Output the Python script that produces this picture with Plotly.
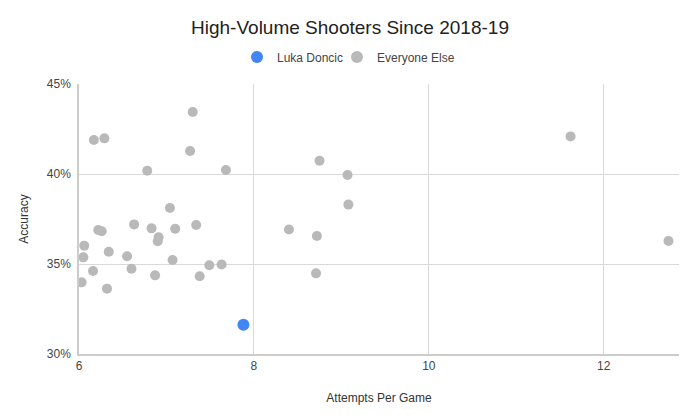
import plotly.graph_objects as go

# Data
luka_attempts = [7.88]
luka_accuracy = [0.3163]

other_attempts = [6.17, 6.29, 7.30, 7.27, 6.78, 7.68, 7.04, 6.63, 6.83, 7.10,
                  7.34, 6.22, 6.26, 6.91, 6.90, 6.06, 6.05, 6.34, 6.55, 7.07,
                  7.49, 7.63, 6.16, 6.60, 6.87, 7.38, 6.03, 6.32, 8.75, 9.07,
                  9.08, 8.40, 8.72, 8.71, 11.62, 12.74]
other_accuracy = [0.4189, 0.4198, 0.4344, 0.4128, 0.4018, 0.4022, 0.3811, 0.3720, 0.3698, 0.3696,
                  0.3717, 0.3689, 0.3682, 0.3648, 0.3626, 0.3602, 0.3537, 0.3568, 0.3543, 0.3522,
                  0.3493, 0.3497, 0.3461, 0.3474, 0.3437, 0.3432, 0.3398, 0.3363, 0.4074, 0.3994,
                  0.3830, 0.3692, 0.3656, 0.3448, 0.4209, 0.3628]

x_ticks = [6, 8, 10, 12]
y_ticks = [0.30, 0.35, 0.40, 0.45]

# The page body has an 8px default margin; size the figure to fill the rest.
W, H = 692, 407
ML, MT, PW, PH = 71, 76, 600, 270

fig = go.Figure()
fig.add_trace(go.Scatter(
    x=luka_attempts, y=luka_accuracy, mode="markers", name="Luka Doncic",
    marker=dict(color="#4285f4", size=12, line=dict(width=0)), legend="legend",
))
fig.add_trace(go.Scatter(
    x=other_attempts, y=other_accuracy, mode="markers", name="Everyone Else",
    marker=dict(color="#b9b9b9", size=10, line=dict(width=0)), legend="legend2",
))

legend_common = dict(orientation="h", xanchor="left", y=1 + 27 / PH, yanchor="middle",
                     font=dict(size=12, color="#444444"), itemsizing="constant",
                     bgcolor="rgba(0,0,0,0)")

fig.update_layout(
    width=W, height=H,
    margin=dict(l=ML, r=W - ML - PW, t=MT, b=H - MT - PH, autoexpand=False),
    paper_bgcolor="white", plot_bgcolor="white",
    font=dict(family="Liberation Sans, Arial, sans-serif", color="#444444", size=12),
    title=dict(text="High-Volume Shooters Since 2018-19", x=342 / W, xanchor="center",
               y=1 - 19 / H, yanchor="middle", automargin=False,
               font=dict(size=19, color="#222222")),
    legend=dict(x=(249 - 20 - ML) / PW, **legend_common),
    legend2=dict(x=(349 - 20 - ML) / PW, **legend_common),
    showlegend=True,
)
fig.update_xaxes(
    range=[6, 12.86], tickvals=x_ticks, ticktext=[str(v) for v in x_ticks],
    showgrid=True, gridcolor="#d9d9d9", gridwidth=1, automargin=False,
    showline=True, linecolor="#cccccc", linewidth=1.5, zeroline=False,
    tickfont=dict(size=12, color="#444444"),
    title=dict(text="Attempts Per Game", standoff=21, font=dict(size=12, color="#333333")),
)
fig.update_yaxes(
    range=[0.30, 0.45], tickvals=y_ticks, tickformat=".0%",
    showgrid=True, gridcolor="#d9d9d9", gridwidth=1, automargin=False,
    showline=True, linecolor="#cccccc", linewidth=1.5, zeroline=False,
    tickfont=dict(size=12, color="#444444"), ticklabelstandoff=4,
    title=dict(text="Accuracy", standoff=16, font=dict(size=12, color="#333333")),
)

fig.write_html("out.html")
